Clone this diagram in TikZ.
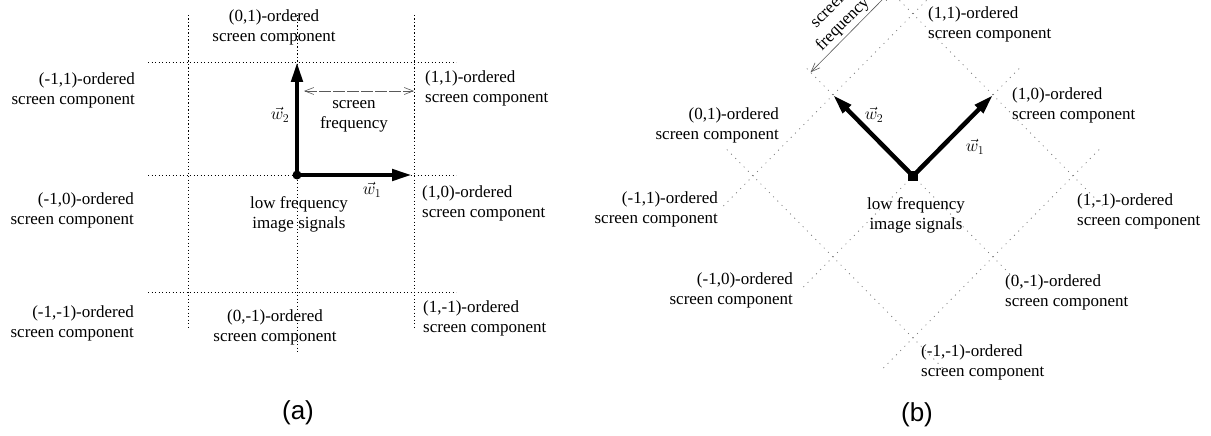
\documentclass[tikz,border=0pt]{standalone}
\usepackage{fontspec}
\setmainfont{Liberation Serif}
\newfontfamily\capfont{Liberation Sans}
\usetikzlibrary{arrows.meta,calc}

\begin{document}
\begin{tikzpicture} [
    x=1pt, y=-1pt,
    grd/.style={line width=0.9pt, dash pattern=on 1.2pt off 2.3pt},
    grdb/.style={gray, line width=0.8pt, dash pattern=on 1pt off 5pt},
    vec/.style={line width=4.5pt, -{Triangle[length=20pt,width=11pt]}},
    frq/.style={gray!70!black, line width=0.6pt, {Straight Barb[length=9pt,width=7pt]}-{Straight Barb[length=9pt,width=7pt]}},
    lbl/.style={font=\fontsize{17}{20}\selectfont, inner sep=0pt},
    capt/.style={font=\capfont\fontsize{26}{30}\selectfont}
  ]
  \clip (0,0) rectangle (1211,436);
  \foreach \i/\x in {m/188,o/297,p/414}
    \foreach \j/\y in {m/292,o/175,p/62}
      \coordinate (a-\i-\j) at (\x,\y);
  \foreach \i/\ii in {m/-1,o/0,p/1}
    \foreach \j/\jj in {m/-1,o/0,p/1}
      \coordinate (b-\i-\j) at ({913+80*(\ii)-80*(\jj)},{176-81*(\ii)-81*(\jj)});

  % (a)
  \foreach \j in {m,o,p}
    \draw[grd] ($(a-m-\j)+(-40,0)$) -- ($(a-p-\j)+(42,0)$);
  \foreach \i in {m,p}
    \draw[grd] ($(a-\i-p)+(0,-47)$) -- ($(a-\i-m)+(0,35)$);
  \draw[grd] ($(a-o-p)+(0,-47)$) -- ($(a-o-m)+(0,62)$);
  \draw[vec] (a-o-o) -- ($(a-p-o)+(-2,0)$);
  \draw[vec] (a-o-o) -- (a-o-p);
  \fill (a-o-o) circle (4.5);
  \coordinate (fqa) at (304,91);
  \draw[frq, dash pattern=on 12pt off 2pt] (fqa) -- (fqa -| a-p-p);
  \node[lbl, align=center] (sfa) at (354,116) {screen\\frequency};
  \node[lbl] (w2a) at (280,115) {$\vec{w}_2$};
  \node[lbl] (w1a) at (372,190) {$\vec{w}_1$};
  \node[lbl, align=center] (lfa) at (299,214) {low frequency\\image signals};
  \node[lbl, anchor=east, align=right] (la-m-p) at (135,90) {(-1,1)-ordered\\screen component};
  \node[lbl, align=center] (la-o-p) at (274,27) {(0,1)-ordered\\screen component};
  \node[lbl, anchor=west, align=left] (la-p-p) at (425,88) {(1,1)-ordered\\screen component};
  \node[lbl, anchor=east, align=right] (la-m-o) at (134,210) {(-1,0)-ordered\\screen component};
  \node[lbl, anchor=west, align=left] (la-p-o) at (422,203) {(1,0)-ordered\\screen component};
  \node[lbl, anchor=east, align=right] (la-m-m) at (134,323) {(-1,-1)-ordered\\screen component};
  \node[lbl, align=center] (la-o-m) at (275,327) {(0,-1)-ordered\\screen component};
  \node[lbl, anchor=west, align=left] (la-p-m) at (423,318) {(1,-1)-ordered\\screen component};
  \node[capt] (capa) at (298,413) {(a)};

  % (b)
  \foreach \j in {m,o,p}
    \draw[grdb] ($(b-m-\j)!-0.185!(b-p-\j)$) -- ($(b-p-\j)!-0.185!(b-m-\j)$);
  \foreach \i in {m,o,p}
    \draw[grdb] ($(b-\i-m)!-0.185!(b-\i-p)$) -- ($(b-\i-p)!-0.185!(b-\i-m)$);
  \draw[vec] (b-o-o) -- (b-p-o);
  \draw[vec] (b-o-o) -- (b-o-p);
  \fill ($(b-o-o)+(-5,-5)$) rectangle ($(b-o-o)+(5,5)$);
  \coordinate (fqb) at ($(b-o-o)!1.28!(b-o-p)$);
  \coordinate (fqc) at ($(fqb)+(80,-81)$);
  \draw[frq] (fqb) -- (fqc);
  \node[lbl, rotate=45, anchor=south, outer sep=3pt, align=center] (sfb) at ($(fqb)!0.5!(fqc)$) {screen\\frequency};
  \node[lbl] (w2b) at (874,115) {$\vec{w}_2$};
  \node[lbl] (w1b) at (975,147) {$\vec{w}_1$};
  \node[lbl, align=center] (lfb) at (916,215) {low frequency\\image signals};
  \node[lbl, anchor=west, align=left] (lb-p-p) at (928,24) {(1,1)-ordered\\screen component};
  \node[lbl, anchor=west, align=left] (lb-p-o) at (1012,105) {(1,0)-ordered\\screen component};
  \node[lbl, anchor=east, align=right] (lb-o-p) at (779,125) {(0,1)-ordered\\screen component};
  \node[lbl, anchor=east, align=right] (lb-m-p) at (718,209) {(-1,1)-ordered\\screen component};
  \node[lbl, anchor=east, align=right] (lb-m-o) at (793,290) {(-1,0)-ordered\\screen component};
  \node[lbl, anchor=west, align=left] (lb-p-m) at (1077,211) {(1,-1)-ordered\\screen component};
  \node[lbl, anchor=west, align=left] (lb-o-m) at (1005,292) {(0,-1)-ordered\\screen component};
  \node[lbl, anchor=west, align=left] (lb-m-m) at (921,362) {(-1,-1)-ordered\\screen component};
  \node[capt] (capb) at (917,415) {(b)};
\end{tikzpicture}
\end{document}
